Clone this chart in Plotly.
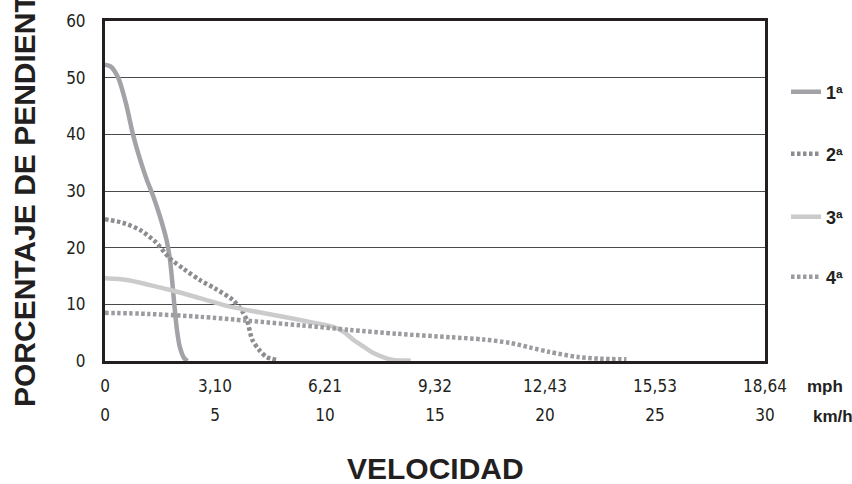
import plotly.graph_objects as go

# ---- data (x in km/h, y in % grade) ----
s1_x = [0, 0.25, 0.6, 0.95, 1.27, 1.6, 1.9, 2.2, 2.5, 2.8, 2.95, 3.05, 3.15, 3.27, 3.4, 3.6, 3.75]
s1_y = [52.3, 52, 50, 45.5, 40, 35.5, 32, 29, 25.5, 21.3, 18, 14.3, 10, 5.5, 2.5, 0.5, 0]

s2_x = [0, 0.8, 1.6, 2.3, 2.95, 3.6, 4.3, 5.0, 5.8, 6.2, 6.45, 6.7, 7.0, 7.35, 7.8]
s2_y = [25, 24.4, 23.1, 21, 18.1, 16.2, 14.3, 12.8, 10.8, 9, 7.2, 3.7, 2, 0.7, 0.2]

s3_x = [0, 1, 2.05, 3.2, 4.3, 5.8, 7, 8.1, 9.3, 10.4, 10.9, 11.3, 11.8, 12.2, 12.7, 13.1, 13.9]
s3_y = [14.6, 14.3, 13.4, 12.3, 11.1, 9.5, 8.6, 7.8, 6.9, 6, 5, 3.7, 2.4, 1.4, 0.6, 0.2, 0.1]

s4_x = [0, 2, 4.3, 6.5, 8.9, 11.1, 13.3, 15.7, 17.2, 18.4, 19.3, 20.2, 21.5, 22.5, 23.7]
s4_y = [8.5, 8.3, 7.8, 7.1, 6.3, 5.5, 4.8, 4.2, 3.8, 3.2, 2.4, 1.6, 0.7, 0.4, 0.3]

series_names = ["1ª", "2ª", "3ª", "4ª"]
kmh_ticks = [0, 5, 10, 15, 20, 25, 30]
mph_labels = ["0", "3,10", "6,21", "9,32", "12,43", "15,53", "18,64"]
kmh_labels = ["0", "5", "10", "15", "20", "25", "30"]
y_ticks = [0, 10, 20, 30, 40, 50, 60]

W, H = 852, 484
ML, MR, MT = 105, 87, 21
plot_bottom = 361
dom0 = (H - plot_bottom) / (H - MT)
row2_pos = (H - (plot_bottom + 30)) / (H - MT)
PW = W - ML - MR

tick_font = dict(family="DejaVu Sans Condensed, Roboto, sans-serif", size=17, color="#231f20")
bold = "Liberation Sans, Arial, sans-serif"

styles = [
    dict(color="#a3a3a7", width=4.5, dash="solid"),
    dict(color="#8d8d91", width=4.5, dash="3.5px,2.5px"),
    dict(color="#cbcbcb", width=4.5, dash="solid"),
    dict(color="#9c9ca0", width=4.5, dash="3.5px,2.5px"),
]
data = [(s1_x, s1_y), (s2_x, s2_y), (s3_x, s3_y), (s4_x, s4_y)]
legends = ["legend", "legend2", "legend3", "legend4"]

fig = go.Figure()
for (xs, ys), st, nm, lg in zip(data, styles, series_names, legends):
    fig.add_trace(go.Scatter(
        x=xs, y=ys, mode="lines", name=nm, line=dict(shape="spline", smoothing=0.8, **st),
        legend=lg, showlegend=True, hoverinfo="skip"))

# invisible trace for second x axis
fig.add_trace(go.Scatter(x=[0, 30], y=[0, 0], xaxis="x2", mode="lines",
                         line=dict(width=0), showlegend=False, hoverinfo="skip"))

leg_y_px = [92, 154, 217, 277]
leg_common = dict(bgcolor="rgba(0,0,0,0)",
                  font=dict(family=bold, size=18, color="#231f20", weight="bold"),
                  xref="container", yref="container", xanchor="left", yanchor="middle",
                  itemwidth=30, borderwidth=0)
layout_legends = {}
for lg, ypx in zip(legends, leg_y_px):
    layout_legends[lg] = dict(x=786 / W, y=(H - ypx) / H, **leg_common)

fig.update_layout(
    template="none",
    width=W, height=H,
    margin=dict(l=ML, r=MR, t=MT, b=0, autoexpand=False),
    paper_bgcolor="white", plot_bgcolor="white",
    showlegend=True,
    xaxis=dict(range=[0, 30], tickvals=kmh_ticks, ticktext=mph_labels, showgrid=False,
               zeroline=False, showline=True, linecolor="#231f20", linewidth=3, mirror=True,
               ticks="", ticklabelstandoff=8, automargin=False, tickfont=tick_font),
    xaxis2=dict(range=[0, 30], overlaying="x", anchor="free", position=row2_pos, side="bottom",
                tickvals=kmh_ticks, ticktext=kmh_labels, showgrid=False, zeroline=False,
                showline=False, ticks="", ticklabelstandoff=12, automargin=False,
                tickfont=tick_font),
    yaxis=dict(range=[0, 60], domain=[dom0, 1], tickvals=y_ticks, showgrid=True,
               gridcolor="#4a4a4a", gridwidth=1, zeroline=False, showline=True,
               linecolor="#231f20", linewidth=3, mirror=True, ticks="", ticklabelstandoff=13,
               automargin=False, tickfont=tick_font),
    **layout_legends,
)

fig.add_annotation(text="<b>PORCENTAJE DE PENDIENTE</b>", textangle=-90,
                   xref="paper", x=(24 - ML) / PW, xanchor="center",
                   yref="y domain", y=0.5, yanchor="middle",
                   showarrow=False, font=dict(family=bold, size=30, color="#231f20"))
fig.add_annotation(text="<b>VELOCIDAD</b>", xref="paper", x=0.5,
                   yref="paper", y=(H - 468) / (H - MT), yanchor="middle",
                   showarrow=False, font=dict(family=bold, size=30, color="#231f20"))
fig.add_annotation(text="<b>mph</b>", xref="paper", x=(805 - ML) / PW, xanchor="left",
                   yref="paper", y=(H - 386) / (H - MT), yanchor="middle",
                   showarrow=False, font=dict(family=bold, size=17, color="#231f20"))
fig.add_annotation(text="<b>km/h</b>", xref="paper", x=(811 - ML) / PW, xanchor="left",
                   yref="paper", y=(H - 416) / (H - MT), yanchor="middle",
                   showarrow=False, font=dict(family=bold, size=17, color="#231f20"))

fig.write_html("out.html", config={"displayModeBar": False},
               post_script="document.body.style.margin='0';")
